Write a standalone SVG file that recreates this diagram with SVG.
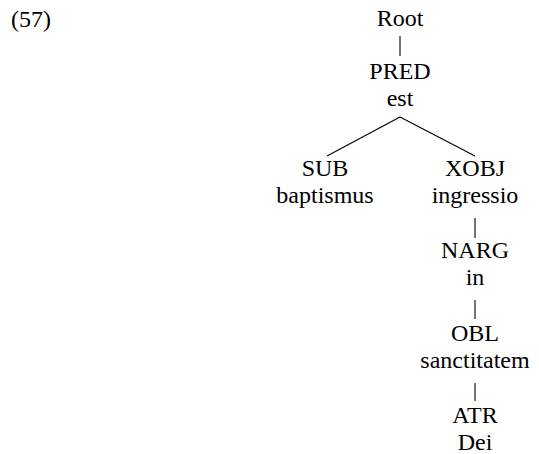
<svg xmlns="http://www.w3.org/2000/svg" width="539" height="454" viewBox="0 0 539 454">
  <style>
    .lbl { fill: #000; text-anchor: middle; }
    .edge { stroke: #000; stroke-width: 1.1; fill: none; }
  </style>
  <rect width="539" height="454" fill="#fff"/>

  <g font-family="Liberation Serif" font-size="24">
    <!-- example number -->
    <text x="11" y="27">(57)</text>

    <!-- connectors -->
    <g id="edges">
      <line class="edge" x1="400" y1="36" x2="400" y2="56"/>
      <line class="edge" x1="400" y1="117" x2="327" y2="156"/>
      <line class="edge" x1="400" y1="117" x2="475" y2="156"/>
      <line class="edge" x1="475" y1="218" x2="475" y2="238"/>
      <line class="edge" x1="475" y1="300" x2="475" y2="319"/>
      <line class="edge" x1="475" y1="383" x2="475" y2="401"/>
    </g>

    <!-- nodes -->
    <g id="root" class="lbl">
      <text x="400" y="26">Root</text>
    </g>
    <g id="pred" class="lbl">
      <text x="400" y="79">PRED</text>
      <text x="400" y="106">est</text>
    </g>
    <g id="sub" class="lbl">
      <text x="325" y="176">SUB</text>
      <text x="325" y="203">baptismus</text>
    </g>
    <g id="xobj" class="lbl">
      <text x="475" y="176">XOBJ</text>
      <text x="475" y="203">ingressio</text>
    </g>
    <g id="narg" class="lbl">
      <text x="475" y="258">NARG</text>
      <text x="475" y="285">in</text>
    </g>
    <g id="obl" class="lbl">
      <text x="475" y="341">OBL</text>
      <text x="475" y="368">sanctitatem</text>
    </g>
    <g id="atr" class="lbl">
      <text x="475" y="423">ATR</text>
      <text x="475" y="450">Dei</text>
    </g>
  </g>
</svg>
